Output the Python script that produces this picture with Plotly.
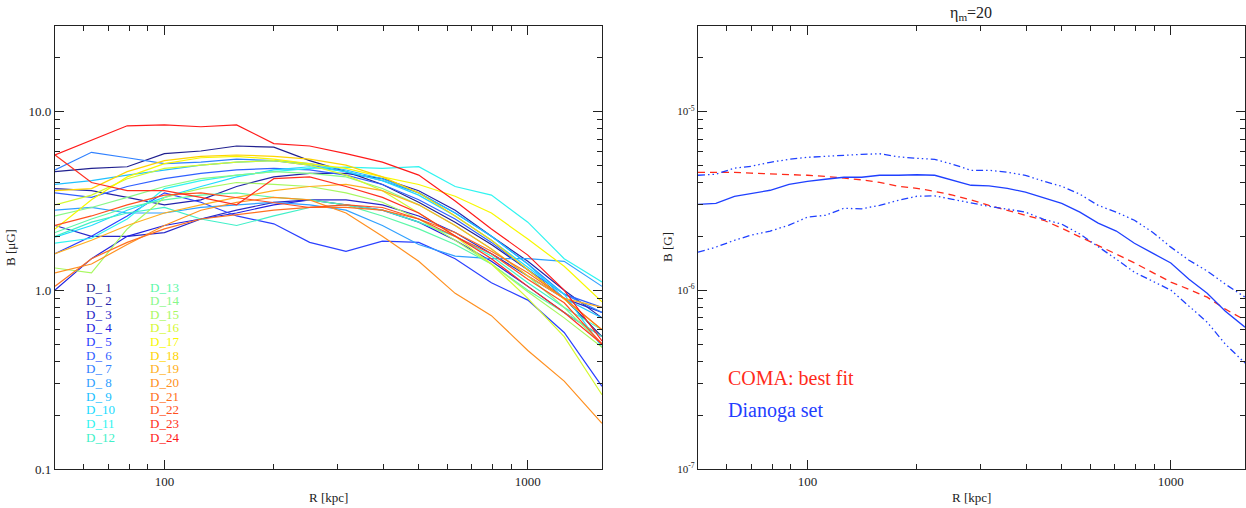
import numpy as np
import plotly.graph_objects as go

W, H = 1246, 508

# ---------------- data ----------------
# Left panel: radial grid (kpc) and B profiles (micro-Gauss)
R_left = [50, 63, 79, 100, 126, 158, 200, 251, 316, 398, 501, 631, 794, 1000, 1259, 1600]
D_1 = [4.6, 4.8, 4.9, 5.8, 6.0, 6.4, 6.3, 5.3, 4.6, 3.9, 3.1, 2.4, 1.8, 1.3, 0.9, 0.55]
D_2 = [3.7, 3.6, 3.3, 3.0, 3.2, 3.8, 4.3, 4.5, 4.5, 4.2, 3.6, 2.8, 2.0, 1.45, 1.0, 0.7]
D_3 = [2.3, 2.0, 2.0, 2.1, 2.5, 2.8, 3.1, 3.2, 3.2, 3.0, 2.6, 2.1, 1.6, 1.2, 0.9, 0.75]
D_4 = [1.0, 1.5, 2.0, 2.3, 2.5, 2.7, 3.0, 3.2, 3.0, 2.8, 2.4, 1.9, 1.45, 1.05, 0.75, 0.55]
D_5 = [1.6, 2.0, 2.6, 3.5, 3.1, 2.6, 2.35, 1.85, 1.65, 1.88, 1.85, 1.5, 1.1, 0.88, 0.58, 0.29]
D_6 = [3.5, 3.3, 3.8, 4.2, 4.5, 4.7, 4.8, 4.7, 4.4, 3.9, 3.2, 2.5, 1.85, 1.3, 0.95, 0.8]
D_7 = [4.7, 5.9, 5.5, 5.1, 5.2, 5.4, 5.3, 5.0, 4.6, 4.1, 3.5, 2.7, 2.0, 1.4, 0.95, 0.75]
D_8 = [2.8, 2.9, 2.7, 2.7, 2.9, 3.0, 3.1, 3.0, 2.8, 2.3, 1.8, 1.55, 1.5, 1.5, 1.45, 1.05]
D_9 = [3.9, 4.1, 4.4, 4.7, 5.0, 5.2, 5.3, 5.1, 4.7, 4.2, 3.5, 2.7, 2.0, 1.4, 0.9, 0.7]
D_10 = [1.98, 2.3, 2.8, 3.3, 3.8, 4.3, 4.7, 4.9, 4.6, 4.1, 3.4, 2.6, 1.9, 1.35, 0.95, 0.48]
D_11 = [1.83, 1.95, 2.5, 3.7, 4.1, 4.4, 4.6, 4.8, 4.87, 4.8, 4.9, 3.8, 3.4, 2.4, 1.5, 1.11]
D_12 = [2.0, 2.4, 2.7, 2.9, 2.5, 2.3, 2.6, 2.9, 3.0, 2.8, 2.4, 2.0, 1.55, 1.1, 0.8, 0.6]
D_13 = [2.1, 2.5, 2.9, 3.2, 3.4, 3.5, 3.3, 3.2, 3.0, 2.6, 2.2, 1.8, 1.4, 1.0, 0.75, 0.55]
D_14 = [2.6, 2.9, 3.3, 3.8, 4.2, 4.4, 4.6, 4.5, 4.3, 3.7, 3.0, 2.3, 1.7, 1.2, 0.8, 0.5]
D_15 = [1.33, 1.25, 2.2, 3.3, 3.7, 4.0, 3.9, 3.8, 3.5, 3.1, 2.5, 1.9, 1.4, 0.98, 0.7, 0.48]
D_16 = [3.0, 3.4, 4.2, 4.8, 5.0, 5.2, 5.3, 5.0, 4.4, 3.6, 2.7, 2.0, 1.4, 0.9, 0.55, 0.26]
D_17 = [2.2, 3.2, 4.3, 5.1, 5.5, 5.6, 5.4, 5.1, 4.8, 4.3, 3.9, 3.35, 2.7, 1.93, 1.36, 0.86]
D_18 = [3.6, 3.7, 4.6, 5.3, 5.6, 5.7, 5.6, 5.4, 5.0, 4.3, 3.5, 2.6, 1.9, 1.3, 0.9, 0.6]
D_19 = [1.6, 1.9, 2.3, 2.7, 3.0, 3.3, 3.6, 3.8, 3.9, 3.6, 3.0, 2.3, 1.7, 1.2, 0.9, 0.8]
D_20 = [1.25, 1.4, 1.8, 2.3, 2.8, 3.1, 3.3, 3.2, 2.7, 2.0, 1.45, 0.96, 0.72, 0.46, 0.31, 0.18]
D_21 = [1.05, 1.5, 1.85, 2.2, 2.5, 2.65, 2.8, 2.9, 2.9, 2.8, 2.5, 2.1, 1.65, 1.25, 0.9, 0.6]
D_22 = [2.3, 2.6, 3.0, 3.4, 3.5, 3.3, 3.1, 2.9, 3.0, 2.9, 2.5, 2.0, 1.6, 1.15, 0.85, 0.5]
D_23 = [5.7, 4.0, 3.6, 3.6, 3.3, 3.0, 4.2, 4.3, 3.8, 3.3, 2.7, 2.0, 1.5, 1.05, 0.75, 0.5]
D_24 = [5.7, 6.9, 8.3, 8.4, 8.2, 8.4, 6.6, 6.4, 5.8, 5.2, 4.4, 3.15, 2.2, 1.57, 1.0, 0.52]

cluster_names = ["D_ 1", "D_ 2", "D_ 3", "D_ 4", "D_ 5", "D_ 6", "D_ 7", "D_ 8", "D_ 9",
                 "D_10", "D_11", "D_12", "D_13", "D_14", "D_15", "D_16", "D_17", "D_18",
                 "D_19", "D_20", "D_21", "D_22", "D_23", "D_24"]
cluster_profiles = [D_1, D_2, D_3, D_4, D_5, D_6, D_7, D_8, D_9, D_10, D_11, D_12,
                    D_13, D_14, D_15, D_16, D_17, D_18, D_19, D_20, D_21, D_22, D_23, D_24]
cluster_colors = ["#20208f", "#2323aa", "#2828c8", "#2020e0", "#2a40ff", "#3060ff",
                  "#2f80ff", "#30a0ff", "#20c0ff", "#20dcff", "#30f4f0", "#40f0c8",
                  "#5cf8a8", "#88f888", "#a8f860", "#d4f830", "#f8f800", "#ffd400",
                  "#ffb020", "#ff9020", "#ff7020", "#ff5020", "#ff3020", "#ff1a1a"]

# Right panel: radial grid (kpc) and B (units of 1e-6 G)
R_right = [50, 56, 63, 70, 79, 89, 100, 112, 126, 141, 158, 178, 200, 224, 251, 282, 316,
           355, 398, 447, 501, 562, 631, 708, 794, 891, 1000, 1122, 1259, 1413, 1600]
dianoga_median = [3.02, 3.06, 3.35, 3.48, 3.62, 3.91, 4.06, 4.17, 4.28, 4.28, 4.39, 4.39, 4.42,
                  4.39, 4.12, 3.86, 3.83, 3.71, 3.53, 3.27, 3.06, 2.73, 2.37, 2.14, 1.83, 1.61,
                  1.42, 1.15, 0.962, 0.763, 0.621]
dianoga_upper = [4.39, 4.45, 4.81, 4.93, 5.19, 5.39, 5.53, 5.61, 5.68, 5.75, 5.79, 5.57, 5.46,
                 5.39, 5.06, 4.68, 4.68, 4.56, 4.39, 4.06, 3.81, 3.44, 2.98, 2.73, 2.46, 2.11,
                 1.74, 1.47, 1.28, 1.08, 0.914]
dianoga_lower = [1.63, 1.74, 1.90, 2.03, 2.14, 2.31, 2.56, 2.62, 2.87, 2.85, 2.98, 3.18, 3.35,
                 3.37, 3.22, 3.06, 2.94, 2.84, 2.73, 2.49, 2.34, 2.06, 1.76, 1.49, 1.26, 1.12,
                 1.00, 0.814, 0.662, 0.499, 0.391]
coma_best_fit = [4.56, 4.56, 4.56, 4.51, 4.48, 4.45, 4.39, 4.33, 4.25, 4.14, 4.01, 3.81, 3.71,
                 3.57, 3.40, 3.20, 2.98, 2.80, 2.62, 2.46, 2.22, 1.98, 1.78, 1.59, 1.42, 1.26,
                 1.11, 1.01, 0.914, 0.783, 0.680]

# ---------------- figure ----------------
def px_x(p):
    return p / W

def px_y(p):
    return 1 - p / H

FONT = "Liberation Serif, Times New Roman, serif"
AX = "#222222"
BLUE = "#1f40ff"
RED = "#ff2a1a"

fig = go.Figure()

for name, prof, col in zip(cluster_names, cluster_profiles, cluster_colors):
    fig.add_trace(go.Scatter(x=R_left, y=prof, mode="lines", name=name,
                             line=dict(color=col, width=1.2), xaxis="x", yaxis="y",
                             showlegend=False))

scale = 1e-6
fig.add_trace(go.Scatter(x=R_right, y=np.array(coma_best_fit) * scale, mode="lines",
                         line=dict(color=RED, width=1.3, dash="7px,5px"),
                         xaxis="x2", yaxis="y2", showlegend=False))
fig.add_trace(go.Scatter(x=R_right, y=np.array(dianoga_upper) * scale, mode="lines",
                         line=dict(color=BLUE, width=1.3,
                                   dash="7px,3px,1.5px,3px,1.5px,3px,1.5px,3px"),
                         xaxis="x2", yaxis="y2", showlegend=False))
fig.add_trace(go.Scatter(x=R_right, y=np.array(dianoga_median) * scale, mode="lines",
                         line=dict(color=BLUE, width=1.3),
                         xaxis="x2", yaxis="y2", showlegend=False))
fig.add_trace(go.Scatter(x=R_right, y=np.array(dianoga_lower) * scale, mode="lines",
                         line=dict(color=BLUE, width=1.3,
                                   dash="7px,3px,1.5px,3px,1.5px,3px,1.5px,3px"),
                         xaxis="x2", yaxis="y2", showlegend=False))

x_minor = [60, 70, 80, 90, 200, 300, 400, 500, 600, 700, 800, 900]

def xaxis_common(domain, anchor):
    return dict(type="log", range=[np.log10(50), np.log10(1600)], domain=domain,
                anchor=anchor, showgrid=False, zeroline=False,
                showline=True, linecolor=AX, linewidth=1.2, mirror="allticks",
                ticks="inside", ticklen=9, tickwidth=1, tickcolor=AX,
                tickvals=[100, 1000], ticktext=["100", "1000"],
                tickfont=dict(family=FONT, size=13, color=AX),
                minor=dict(ticks="inside", ticklen=5, tickwidth=1, tickcolor=AX,
                           tickvals=x_minor, showgrid=False))

yd = [px_y(469), px_y(26)]
left_dom = [px_x(55), px_x(602)]
right_dom = [px_x(698), px_x(1245)]

y_minor_left = [0.2, 0.3, 0.4, 0.5, 0.6, 0.7, 0.8, 0.9, 2, 3, 4, 5, 6, 7, 8, 9, 20]
y_minor_right = [v * 1e-7 for v in [2, 3, 4, 5, 6, 7, 8, 9]] + \
                [v * 1e-6 for v in [2, 3, 4, 5, 6, 7, 8, 9]] + [2e-5]

fig.update_layout(
    width=W, height=H, autosize=False, margin=dict(l=0, r=0, t=0, b=0, autoexpand=False),
    paper_bgcolor="white", plot_bgcolor="white",
    font=dict(family=FONT, size=13, color=AX),
    xaxis=xaxis_common(left_dom, "y"),
    xaxis2=xaxis_common(right_dom, "y2"),
    yaxis=dict(type="log", range=[-1, np.log10(30)], domain=yd, anchor="x",
               showgrid=False, zeroline=False, showline=True, linecolor=AX, linewidth=1.2,
               mirror="allticks", ticks="inside", ticklen=9, tickwidth=1, tickcolor=AX,
               tickvals=[0.1, 1, 10], ticktext=["0.1", "1.0", "10.0"],
               tickfont=dict(family=FONT, size=13, color=AX),
               minor=dict(ticks="inside", ticklen=5, tickwidth=1, tickcolor=AX,
                          tickvals=y_minor_left, showgrid=False)),
    yaxis2=dict(type="log", range=[-7, np.log10(3e-5)], domain=yd, anchor="x2",
                showgrid=False, zeroline=False, showline=True, linecolor=AX, linewidth=1.2,
                mirror="allticks", ticks="inside", ticklen=9, tickwidth=1, tickcolor=AX,
                tickvals=[1e-7, 1e-6, 1e-5],
                ticktext=["10<sup>-7</sup>", "10<sup>-6</sup>", "10<sup>-5</sup>"],
                tickfont=dict(family=FONT, size=11, color=AX),
                minor=dict(ticks="inside", ticklen=5, tickwidth=1, tickcolor=AX,
                           tickvals=y_minor_right, showgrid=False)),
)

ann = []
# axis titles
ann.append(dict(text="B [\u03bcG]", x=px_x(10), y=px_y(247), textangle=-90,
                font=dict(family=FONT, size=13, color=AX)))
ann.append(dict(text="R [kpc]", x=px_x(328), y=px_y(497),
                font=dict(family=FONT, size=13, color=AX)))
ann.append(dict(text="B [G]", x=px_x(667), y=px_y(247), textangle=-90,
                font=dict(family=FONT, size=13, color=AX)))
ann.append(dict(text="R [kpc]", x=px_x(971), y=px_y(497),
                font=dict(family=FONT, size=13, color=AX)))
ann.append(dict(text="\u03b7<sub>m</sub>=20", x=px_x(971), y=px_y(14),
                font=dict(family=FONT, size=16, color=AX)))
# left label column
for i, (name, col) in enumerate(zip(cluster_names, cluster_colors)):
    colx = 84 if i < 12 else 148
    row = i % 12
    ann.append(dict(text=name, x=px_x(colx), y=px_y(287 + 13.65 * row), xanchor="left",
                    font=dict(family=FONT, size=13, color=col)))
# right legend
ann.append(dict(text="COMA: best fit", x=px_x(726), y=px_y(378), xanchor="left",
                font=dict(family=FONT, size=20, color=RED)))
ann.append(dict(text="Dianoga set", x=px_x(726), y=px_y(410), xanchor="left",
                font=dict(family=FONT, size=20, color=BLUE)))
for a in ann:
    a.setdefault("xanchor", "center")
    a.update(xref="paper", yref="paper", yanchor="middle", showarrow=False)
fig.update_layout(annotations=ann)

fig.write_html("out.html", config={"responsive": False})
